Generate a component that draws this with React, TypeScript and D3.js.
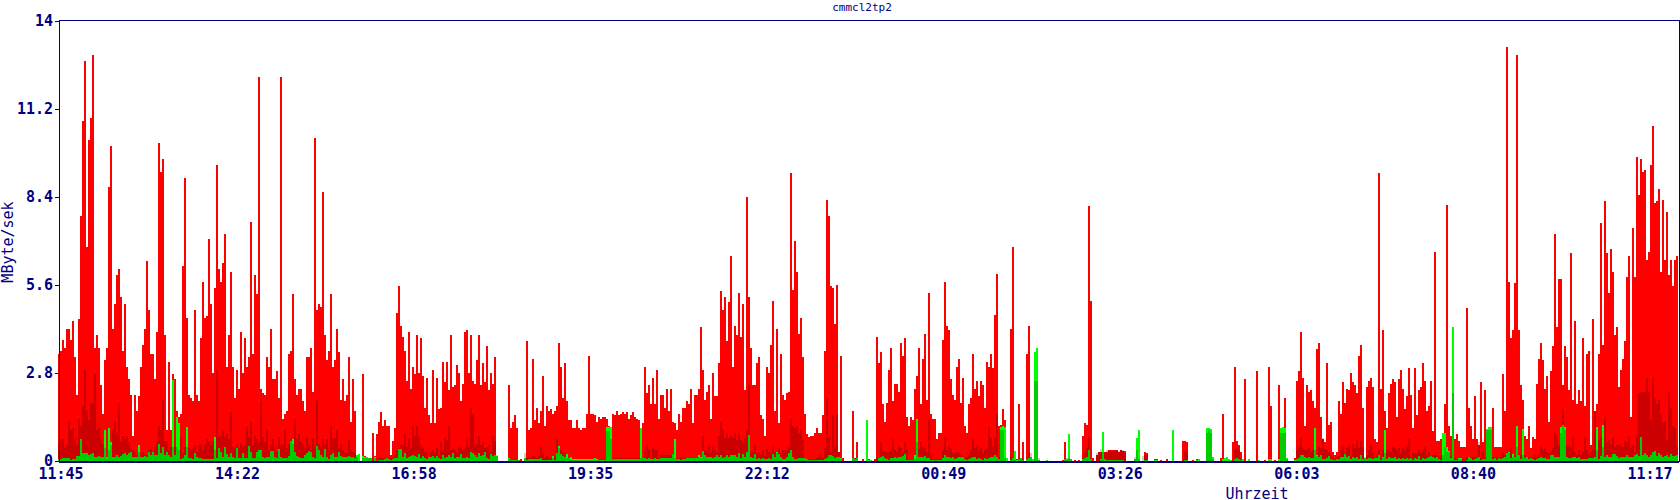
import React, { useEffect, useRef } from 'react'
import * as d3 from 'd3'

const title = 'cmmcl2tp2'
const yLabel = 'MByte/sek'
const xLabel = 'Uhrzeit'
const yTicks = [0, 2.8, 5.6, 8.4, 11.2, 14]
const xTickLabels = ['11:45', '14:22', '16:58', '19:35', '22:12', '00:49', '03:26', '06:03', '08:40', '11:17']

// red = main series, one value per sample in MByte/sek
const redA = [3.4,3.5,3.85,3.6,4.2,4.2,3.85,4.45,3.3,2.1,4.5,7.8,10.8,12.7,6.8,10.2,10.9,12.9,3.6,4.0,3.6,2.4,1.5,3.2,3.6,8.7,10,4.2,5,5.9,6.1,5.2,3.5,5.0,3.0,2.6,2.1,.8,2.1,1.6,2.05,3,3.7,4.2,6.35,4.8,3.4,3.4,2.6,4.1,10.1,9.2,9.6,4,1,3.15,1,2.75,2.6,1.6,1.4,1.5,6.2,9,4.55,2.1,2,1.9,4.8,2.1,1.9,3.9,5.7,4.55,4.6,7.05,5,2.8,5.5,9.4,6.1,5.7,6.3,7.2,3,4,6,3,2,2.9,2.3,4.1,2.8,3.9,3,3.3,7.6,3.4,5.9,5.3,12.2,2.3,2.15,2.1,3.3,3,4.2,2.6,2.6,2.85,2,12.2,1.35,1.5,1.6,3.4,3.5,5.3,2.6,2.1,2.3,2.3,1.9,1.6,3.3,3.3,3.6,2.2,10.25,4.8,5,4.9,8.55,4,3.2,3.5,5.3,3,3.2,4.2,3.45]
const redB = [1.95,2.6,1.9,2.1,3.3,1.25,2.6,1.6,.2,0,0,2.75,.15,.12,.1,0,.9,.15,.85,1.25,1.55,1.1,1.3,1.1,1.1,.2,.65,1.05,4.7,5.55,4.3,3.95,3.5,2.55,4.1,2.3,3,2.75,4,2.8,3.9,2.7,1.7,2.65,1.45,1.2,2.9,1.2,2.65,1.65,1.7,3.15,2.5,3.15,2.25,4,2.35,2.4,3.05,2.8,1.9,2.45,4.1,4.15,2.8,4,2.55,2.45,3.2,4,2.4,3.1,2.5,3.65,2.25,2.8,2.45,3.3,0,0,0,0,0,0,2.4,1.05,1.25,1.45,1.05,0,.05,0,0,3.8,1,1.05,3.25,1.3,1.7,1.2,1.6,2.7,1.1,1.75,1.6,1.65,1.5,1.6,1.75,3.75,3,2,3.1,1.9,1.3,1.3,1.05,1.05,1.3,1.05,1,1.05,1.05,1.5,3.35,1.5,1.5,1.45,1.25,1.4,1.35,1.4,1.4,1.35,1.1,1,1.5,1.45,1.6,1.45,1.5,1.55,1.5,1.55,1.35,1.45,1.55,1.4,1.35,1.3,1,1.2,3,2.15,2.4,1.8,2.65,1.8,2.9,1.35,2.1,2.1,1.7,2.3,1.6,2.3,1.25,1.2,1,1.5]
const redC = [1.25,1.7,1.7,1.9,1.8,2.3,1.2,2.1,2.1,2.3,4.25,2.9,1.95,2.2,2.4,1.35,2.8,2.05,2.05,3.1,5.4,4.8,5.2,3.8,5.05,6.5,3,4.3,4,5.35,3.95,5,2.25,8.4,5.2,3.6,2.4,2.4,3.1,3.3,1.45,1.35,.8,3,2.8,3.7,5.1,1.6,4.2,1.2,3.4,2.1,1.95,2.15,2.2,9.15,5.45,7,6,4.05,4.55,3.3,1.5,.85,.75,.8,.8,.9,1.05,.9,.9,1.45,3.5,8.3,7.8,5.55,5.5,4.35,5.6,.3,3.35,.1,0,0,0,0,1.6,.08,.6,0,0,.05,0,0,.05,0,0,.05,3.95,3.1,3.45,1.8,1.25,1.85,2.9,3.6,1.9,2.45,2.45,2.2,3.75,3.35,3.9,1.4,1.1,1.4,1.3,2.3,2.7,3.6,1.8,3.25,4.05,1.95,5.35,1.5,1.35,1.35,.7,.9,.9,3.85,5.7,4.3,4.15,2.6,2.1,1.95,3,3.25,1.85,2.65,1.1,.9,1.8,2,3.4,2.3,2.55,2.05,2.55,2.4,1.7,3.15,3,3.4,2.95,4.65,5.95,1.1,1.15,1.65,1.3,.05,0,4.2,6.8,.05,.05,1.8]
const redD = [0,.6,0,3.4,4.3,.1,.05,0,0,0,0,0,0,0,0,0,0,0,0,0,0,.03,.6,.04,.04,0,0,.03,0,.03,0,.8,1.2,1.15,8.1,5.1,.1,0,.2,.3,.3,.25,.3,.28,.35,.35,.35,.35,.35,.28,.35,.33,.33,0,0,0,0,.06,.35,0,0,0,.3,.25,0,0,0,.05,.05,0,.03,0,0,.05,0,0,.05,0,0,0,0,.65,.65,.6,0,0,.03,0,.05,.02,0,0,0,.05,.05,.45,0,0,0,0,.1,1.5,.1,.05,.05,0,.6,3,.65,.5,.3,.02,2.6,0,0,0,0,0,2.85,.03,0,0,.03,0,3,1.75,0,.03,0,2.4,.35,.05,2,.05,0,0,0,.1,2.55,2.85,4.1,2.65,1.1,2.4,2.2,2.25,1.9,1.7,3.55,3.75,1.4,.7,.6,3.1,1.15,1.25,.3,.2,.3,1.9]
const redE = [1.5,2.5,1.85,2.3,2.25,2.8,2.5,2.4,2.15,3.35,3.7,1.7,.05,2.35,2.55,2.65,2.35,.7,.6,9.15,2.3,4.15,1.6,1.05,2.15,2.45,2.6,2.5,1.4,2.6,2.9,2.3,1.65,2.05,2.95,2.1,1.05,2.95,1.45,2.25,2.35,3.1,2.55,1.6,1.75,2.55,.95,6.65,.65,.65,.7,.9,1.8,8.15,1.1,.8,.7,.7,.85,.65,.45,.45,.45,4.85,1.7,1.1,.7,2.05,.7,.5,2.5,.6,2.25,.7,1,1.05,1.7,.45,.45,.45,.45,2.75,1.6,13.15,5.7,3.9,4.15,5.65,12.9,4.15,2.4,1.95,.8,.7,1.1,.4,.75,.7,2.45,3.25,3.75,3.2,2.3,2.7,1.25,2.85,3.65,7.2,4.25,5.8,5.8,2.4,3.65,3.3,2.25,6.6,1.95,4.45,1.8,2.25,1.9,3.9,1.75,3.4,3.5,.5,4.5,1.6,1.8,3.4,7.55,3.7,8.25,6.6,5.35,6.75,6,4,4.25,2.35,2.9,3.25,3.8,5.85,6.5,1.4,7.4,5.85,9.65,8.45,9.6,9.2,9.25,6.4,6.65,9.4,10.65,8.2,8.25,8.65,6,8.3,6.4,7.9,5.9,6.4,5.55,6.4,6.5,6.9]
const redValues = [...redA, ...redB, ...redC, ...redD, ...redE]

// green series
const greenValues = [
  .05,.05,.1,.1,.1,.08,.03,.07,.07,.15,.15,.7,.25,.25,.25,.2,.22,.27,.12,.12,.15,.12,.12,1,.12,1.05,.6,.12,.12,.2,.12,.15,.22,.25,.2,.25,.3,.12,.12,.12,.5,.12,.12,.15,.12,.3,.2,.3,.2,.18,.55,.25,.45,.2,.28,.2,.12,2.57,.2,1.4,1.2,.05,.1,.2,1.08,.08,.08,.07,.25,.12,.08,.08,.07,.05,.05,.05,.05,.05,.75,.08,.4,.3,.12,.43,.22,.12,.25,.12,.1,.4,.08,.08,.25,.08,.1,.47,.3,.08,.1,.28,.35,.35,.12,.1,.12,.12,.33,.33,.12,.1,.38,.12,.1,.1,.1,.15,.65,.7,.3,.15,.12,.1,.1,.2,.25,.33,.28,.12,.1,.47,.35,.2,.12,.37,.12,
  .05,.2,.25,.12,.12,.28,.15,.12,.12,.12,.15,.12,.12,.08,.2,.22,0,.15,.12,.12,.1,.08,0,.14,0,.03,.03,.03,.05,.1,.05,.03,.05,.08,.08,.37,.37,.14,.25,.08,.12,.15,.2,.15,.12,.22,.08,.15,.08,.05,.14,.12,.15,.08,.15,.08,.05,.2,.08,.12,.2,.12,.27,.08,.12,.12,.22,.08,.08,.12,.08,.28,.25,.2,.12,.27,.15,.2,.28,.08,.05,.22,.15,.2,.15,0,0,0,0,0,.08,.03,.03,.03,.03,.03,0,0,.08,.03,.05,.05,.05,.05,.05,.05,.08,.03,.03,.03,.03,.03,.16,.03,.25,.47,.22,.15,.12,.22,.08,.12,.05,.05,.05,.05,.05,.05,.05,.05,.05,.05,.05,.1,.05,
  .03,.03,.03,.03,1.07,1.07,1.07,.05,.05,.05,.05,.05,.05,.05,.05,.05,.05,.05,.05,.05,.05,1.05,.08,.1,.05,.1,.05,.05,.1,.05,.05,.08,.08,.08,.08,.08,.08,.22,.7,.05,.05,.03,.05,.05,.1,.1,.1,.1,.1,.1,.18,.12,.32,.18,.12,.12,.12,.08,.12,.18,.12,.18,.1,.12,.18,.12,.18,.2,.18,.12,.25,.1,.22,.12,.28,.83,.12,.1,.22,.05,.1,.05,.1,.05,.05,.1,.05,.22,.12,.3,.22,.12,.05,.05,.12,.25,.35,.12,.05,.05,.1,.1,.1,.1,.05,.03,.03,.03,.03,.03,.03,.03,.03,.05,.1,.2,.2,.15,.1,.12,.12,.1,0,0,0,0,0,.1,.05,.1,0,0,0,0,1.3,
  .03,.03,0,0,0,.08,.12,.15,.08,.05,.03,.1,.08,.12,.08,.14,.12,.16,.22,.03,.03,.03,.03,.2,1.32,.12,.12,.12,.15,.1,.1,.03,.03,.03,.03,.03,.03,.08,.2,.14,.14,.1,.12,.05,.08,.12,.12,.12,.05,.03,.05,.1,.12,.12,.05,.08,.05,.03,.1,.05,.1,.12,.12,.2,.12,.05,1.07,1.1,1.08,.1,0,.03,.08,.33,.03,.05,.08,.03,0,.05,.08,.12,.05,3.45,3.6,.03,0,0,0,.04,0,0,0,0,0,0,0,0,.05,.05,.85,.05,0,0,0,0,0,.05,.08,.12,.35,.05,0,0,0,0,.05,.92,.05,.03,.03,.03,.03,.03,.03,.03,.03,.03,0,0,0,0,0,.05,.72,
  .98,0,0,.03,.03,0,0,0,.03,.03,0,0,0,0,0,0,0,.98,0,0,0,0,0,.03,.03,0,0,0,0,.03,.05,0,0,0,1.05,1.05,1.03,.12,0,0,0,0,.05,.1,.12,.05,.03,0,.05,.1,.05,.03,.05,0,0,.05,0,0,0,0,.03,0,0,0,0,.05,.05,0,0,0,.05,1.05,1.07,1.05,.08,0,0,0,.03,.05,.08,.2,.2,.12,.1,.12,.1,.08,1.05,.2,.12,.2,.05,.05,.1,.16,.05,.03,.03,.05,.05,.12,.14,.22,.12,.16,.05,.12,.08,.12,.05,.2,.05,.1,.05,.08,.1,.05,.1,.08,.2,.03,.12,.97,.05,.12,.1,.1,.12,.05,.08,.05,.08,.05,.08,
  .05,.08,.03,.1,.05,.15,.03,.08,.05,.08,.12,.15,.12,.1,.12,.05,.03,.88,.88,.43,.32,.08,4.25,.03,.03,.08,.08,.01,.01,.03,.12,.08,.03,.05,.08,.12,.03,.05,.05,1.03,1.08,1.08,.05,.08,.03,.08,.05,.08,.12,.25,.28,.08,.22,.12,1.1,.2,.05,1.03,.08,.12,.05,.08,.05,.03,.05,.08,.12,.08,.08,.05,.05,.18,.2,.12,.12,.12,1.07,1.15,1.07,.12,.08,.1,.14,.12,.08,.12,.05,.05,.05,.05,.1,.08,.1,.12,1.08,.05,.15,1.15,.12,.18,.14,.12,.22,.22,.15,.08,.12,.12,.12,.18,.12,.12,.12,.2,.22,.15,.75,.18,.25,.18,.12,.2,.3,.32,.15,.25,.18,.12,.15,.18,.12,.22,.15,.15,.2,.12,
]

// third series, only seen as the darker band over the other two
const darkValues = [
  .5,.7,.7,.4,.5,1.27,1,1.05,.7,.5,1.35,1.1,1.75,2.9,1.6,1.3,1.8,1.85,2.75,1,1.05,.7,.55,.4,.1,.35,.5,1,1.25,.9,1.85,.65,.8,.7,.8,.6,.4,.35,.3,.2,.3,.25,.3,.2,.2,.35,.37,.3,.45,.65,1.1,1,1.95,.65,.65,.35,.45,.43,.43,.45,.35,.75,.25,.45,.45,.4,.35,.4,.5,.3,.5,.55,.35,.5,.7,.6,.5,.65,.35,2.9,.75,.8,1,.75,.85,.7,1.55,.45,.4,.55,.4,.55,.45,.5,1.07,.75,1.25,.5,.8,.7,.6,1.9,.75,.6,1,.35,.5,.7,.45,.3,.75,.5,.55,1,.4,.55,.7,.55,1.35,.7,.85,.6,.55,.4,.75,.5,.35,.7,.45,1.95,.55,.45,.7,.5,.7,
  .35,1.1,.72,.72,1,.4,.55,.35,.27,.25,.67,.35,.3,.25,.13,0,0,.08,.08,.08,.08,.08,0,.08,0,.08,.08,.08,.08,.08,.08,.08,.08,.2,.35,.4,.5,.5,.85,.45,.7,.4,1.1,.8,1.1,.75,.5,.4,.3,.25,.13,.3,.35,.25,.4,.2,.6,.35,.72,.67,1.1,.35,.4,.35,.3,.45,.4,.35,.4,.7,.45,1.7,1.5,.5,.55,.8,.5,.6,.4,.45,.5,.3,.8,.65,.2,0,0,0,0,0,.05,.02,.02,.02,.02,.02,0,0,.25,.1,.14,.1,.16,.16,.1,.16,.43,.25,.1,.16,.1,.1,.1,.16,.7,.4,.35,.3,.25,.1,.08,.03,.03,.03,.03,.03,.03,.03,.03,.03,.03,.03,.03,.03,.03,
  .03,.03,.03,.03,.95,.95,.7,.1,.1,.1,.1,.1,.1,.1,.1,.1,.1,.1,.1,.1,.1,.1,.1,.35,.5,.35,.1,.4,.35,.35,.1,.2,.2,.2,.2,.2,.2,.25,.1,.1,.1,.1,.1,.1,.1,.1,.1,.1,.1,.1,.12,.1,.8,.35,.35,.5,.3,.5,.35,.3,.8,1.25,1,.72,.88,.72,.8,.72,.88,.66,.9,.66,.6,.72,.98,2.4,.3,.3,.5,.25,.25,.2,.35,.15,.37,.3,.25,.5,.3,.25,.4,.25,.35,.35,.35,.43,1.33,1.1,1.05,1.1,.88,1,.66,.1,.05,.05,.05,.05,.05,.1,.12,.2,.1,.4,2,.77,.3,1.45,.45,1.5,.3,.05,0,0,0,0,0,.08,.08,.08,0,0,0,0,0,
  0,0,0,0,.12,.1,.6,.35,.3,.3,.3,.35,.7,.35,.3,.48,.4,.3,.6,.35,.03,.03,.03,.05,.6,.37,.6,.45,.4,.3,1.3,.2,.05,.05,.05,.05,.05,.35,.75,.35,.48,.4,.25,.3,.3,.3,.2,.15,.1,.12,.2,.35,.7,.4,.5,.35,.4,.25,.35,.4,1.07,.72,.43,.72,1.5,.12,1,1,.08,0,0,.12,.08,.03,0,.08,.08,.05,0,.1,.25,.25,0,2.55,2.55,.08,0,0,0,0,0,0,0,0,0,0,0,0,.08,.08,.08,.05,0,0,0,0,0,.1,.25,.4,.75,.1,0,0,.27,.3,.37,.3,.3,.35,.35,.33,.33,.33,.35,.33,.35,.35,.27,0,0,0,0,.12,.35,
  .05,0,.15,.2,.15,0,0,0,0,0,0,0,0,0,0,0,0,0,0,0,0,0,0,.33,.35,0,0,0,0,0,0,0,0,0,.9,1,.9,.05,0,0,0,0,0,0,0,0,0,0,.35,.4,.35,.05,0,0,0,0,0,0,0,0,0,0,0,0,0,0,0,0,0,0,0,.9,.9,.9,.05,0,0,0,0,.35,.43,.72,.4,.35,.35,.4,.3,.35,.35,.15,.45,.4,.72,.37,.35,.3,.2,.12,.08,.12,.15,.35,.5,.25,.4,.5,.15,.55,.4,.67,.4,.62,.43,.12,.2,.35,.5,.3,.08,.2,.35,.08,.35,.25,.35,.35,.3,.45,.4,.35,.4,.25,.4,.35,.5,
  .7,.12,.27,.25,.25,.35,.25,.35,.45,.2,.3,.15,.2,.2,.2,.15,.15,.2,.43,.3,.3,.15,2.17,.08,.05,.05,.05,.05,.05,.12,.12,.14,.14,.14,.14,.6,.08,.3,.12,1,1,1,.12,.12,.12,.12,.12,.25,.2,.3,.25,.4,.14,.2,.43,.25,.2,.2,.2,.12,.12,.12,.12,.2,.12,.2,.48,.35,.4,.3,.25,.3,.4,.88,.82,.5,.9,1.65,.98,.5,.5,.4,.77,.3,.2,.35,.2,.3,.77,.35,.2,.3,.35,1.6,.35,.67,.77,.45,1.4,.6,.67,.55,.72,.45,.5,.54,.48,.43,.65,.6,.8,.4,.5,.3,.82,2.15,2.2,2.2,2.2,2.65,2.2,1.3,2.67,2,1.8,1.95,1.5,1.2,1.25,.67,2.2,1.7,1.1,1.05,.45,1.5,
]

const width = 1680
const height = 500
const left = 59
const right = 1679
const top = 20
const bottom = 461
const navy = '#000080'
const fontFamily = '"DejaVu Sans Mono", monospace'

export default function App() {
  const svgRef = useRef<SVGSVGElement | null>(null)

  useEffect(() => {
    document.body.style.margin = '0'
    const svg = d3.select(svgRef.current)
    svg.selectAll('*').remove()

    const x = d3.scaleLinear().domain([-0.5, redValues.length - 0.5]).range([left - 0.7, left - 0.7 + redValues.length * 2])
    const y = d3.scaleLinear().domain([0, 14]).range([bottom, top + 0.5])
    const xTick = d3.scalePoint<string>().domain(xTickLabels).range([61, 1650])

    const area = d3.area<number>()
      .x((_, i) => x(i - 0.5))
      .y0(bottom)
      .y1(d => y(d))
      .curve(d3.curveStepAfter)

    const plot = svg.append('g').attr('shape-rendering', 'crispEdges')
    plot.append('path').datum(redValues).attr('fill', '#ff0000').attr('d', area)
    plot.append('path').datum(greenValues).attr('fill', '#00ff00').attr('d', area)
    plot.append('path').datum(darkValues).attr('fill', '#000000').attr('fill-opacity', 0.2).attr('d', area)

    // frame
    svg.append('rect')
      .attr('x', left).attr('y', top).attr('width', right - left).attr('height', bottom - top)
      .attr('fill', 'none').attr('stroke', navy).attr('stroke-width', 1).attr('shape-rendering', 'crispEdges')
    svg.append('line')
      .attr('x1', left).attr('x2', right).attr('y1', bottom + 0.5).attr('y2', bottom + 0.5)
      .attr('stroke', navy).attr('stroke-width', 2).attr('shape-rendering', 'crispEdges')

    const yAxis = svg.append('g')
      .attr('transform', `translate(${left},0)`)
      .call(d3.axisLeft(y).tickValues(yTicks).tickSize(4).tickPadding(2).tickFormat(d => String(d)))
    yAxis.select('.domain').remove()
    yAxis.selectAll('line').attr('stroke', navy).attr('shape-rendering', 'crispEdges')
    yAxis.selectAll('text').attr('fill', navy).attr('font-family', fontFamily).attr('font-size', 15).attr('font-weight', 'bold')

    svg.append('g').selectAll('text').data(xTickLabels).join('text')
      .attr('x', d => xTick(d) as number)
      .attr('y', 479)
      .attr('text-anchor', 'middle')
      .attr('fill', navy).attr('font-family', fontFamily).attr('font-size', 15).attr('font-weight', 'bold')
      .text(d => d)

    svg.append('text').attr('x', 862).attr('y', 11).attr('text-anchor', 'middle')
      .attr('fill', navy).attr('font-family', fontFamily).attr('font-size', 11)
      .text(title)
    svg.append('text').attr('x', 1257).attr('y', 499).attr('text-anchor', 'middle')
      .attr('fill', navy).attr('font-family', fontFamily).attr('font-size', 15)
      .text(xLabel)
    svg.append('text').attr('transform', 'translate(13,242) rotate(-90)').attr('text-anchor', 'middle')
      .attr('fill', navy).attr('font-family', fontFamily).attr('font-size', 15)
      .text(yLabel)
  }, [])

  return <svg ref={svgRef} width={width} height={height} style={{ display: 'block' }}></svg>
}
